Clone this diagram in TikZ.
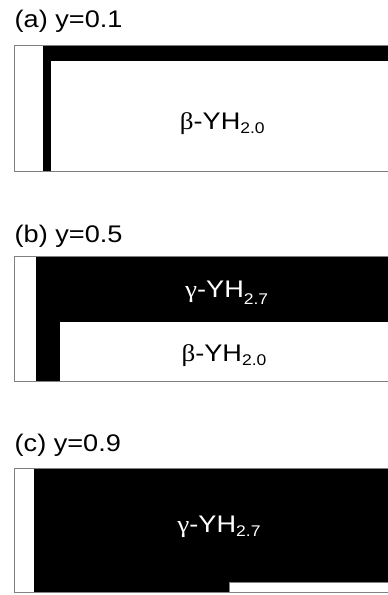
\documentclass[tikz,border=0pt]{standalone}
\usepackage{fontspec}
\setmainfont{Liberation Sans}
\newfontfamily\greekfont{Liberation Serif}
\newcommand\myphase[3]{\scalebox{1.13}[1]{{\greekfont #1}-YH\raisebox{-#3pt}{\fontsize{15.5}{15.5}\selectfont #2}}}
\newcommand\mylabel[1]{\scalebox{1.13}[1]{#1}}
\begin{document}
\begin{tikzpicture}[x=1pt,y=-1pt,
  txt/.style={inner sep=0pt,anchor=base,font=\fontsize{24}{27}\selectfont},
  ttl/.style={inner sep=0pt,anchor=base west,font=\fontsize{24}{27}\selectfont},
  outline/.style={draw=black!50,line width=1pt}]
\useasboundingbox (0,0) rectangle (388,595);
\clip (0,0) rectangle (388,595);
% panel (a)
\fill[white] (14.5,45.5) rectangle (395,171.5);
\fill[black] (43,46) rectangle (51,171);
\fill[black] (43,46) rectangle (395,61);
\draw[outline] (14.5,45.5) rectangle (395,171.5);
\node[ttl] (la) at (14.5,27.5) {\mylabel{(a) y=0.1}};
\node[txt] (ba) at (222.3,129) {\myphase{β}{2.0}{4}};
% panel (b)
\fill[black] (36,257) rectangle (395,322);
\fill[black] (36,257) rectangle (60,381);
\draw[outline] (14.5,256.5) rectangle (395,381.5);
\node[ttl] (lb) at (14.5,242) {\mylabel{(b) y=0.5}};
\node[txt,text=white] (gb) at (226.7,297.5) {\myphase{γ}{2.7}{7}};
\node[txt] (bb) at (224,361) {\myphase{β}{2.0}{4}};
% panel (c)
\fill[black] (34.3,469) rectangle (395,592);
\filldraw[fill=white,draw=black!50,line width=0.8pt] (229.3,582.7) rectangle (395,592.3);
\draw[outline] (14.5,468.5) rectangle (395,592.5);
\node[ttl] (lc) at (14.5,451) {\mylabel{(c) y=0.9}};
\node[txt,text=white] (gc) at (219,532) {\myphase{γ}{2.7}{4}};
\end{tikzpicture}
\end{document}
